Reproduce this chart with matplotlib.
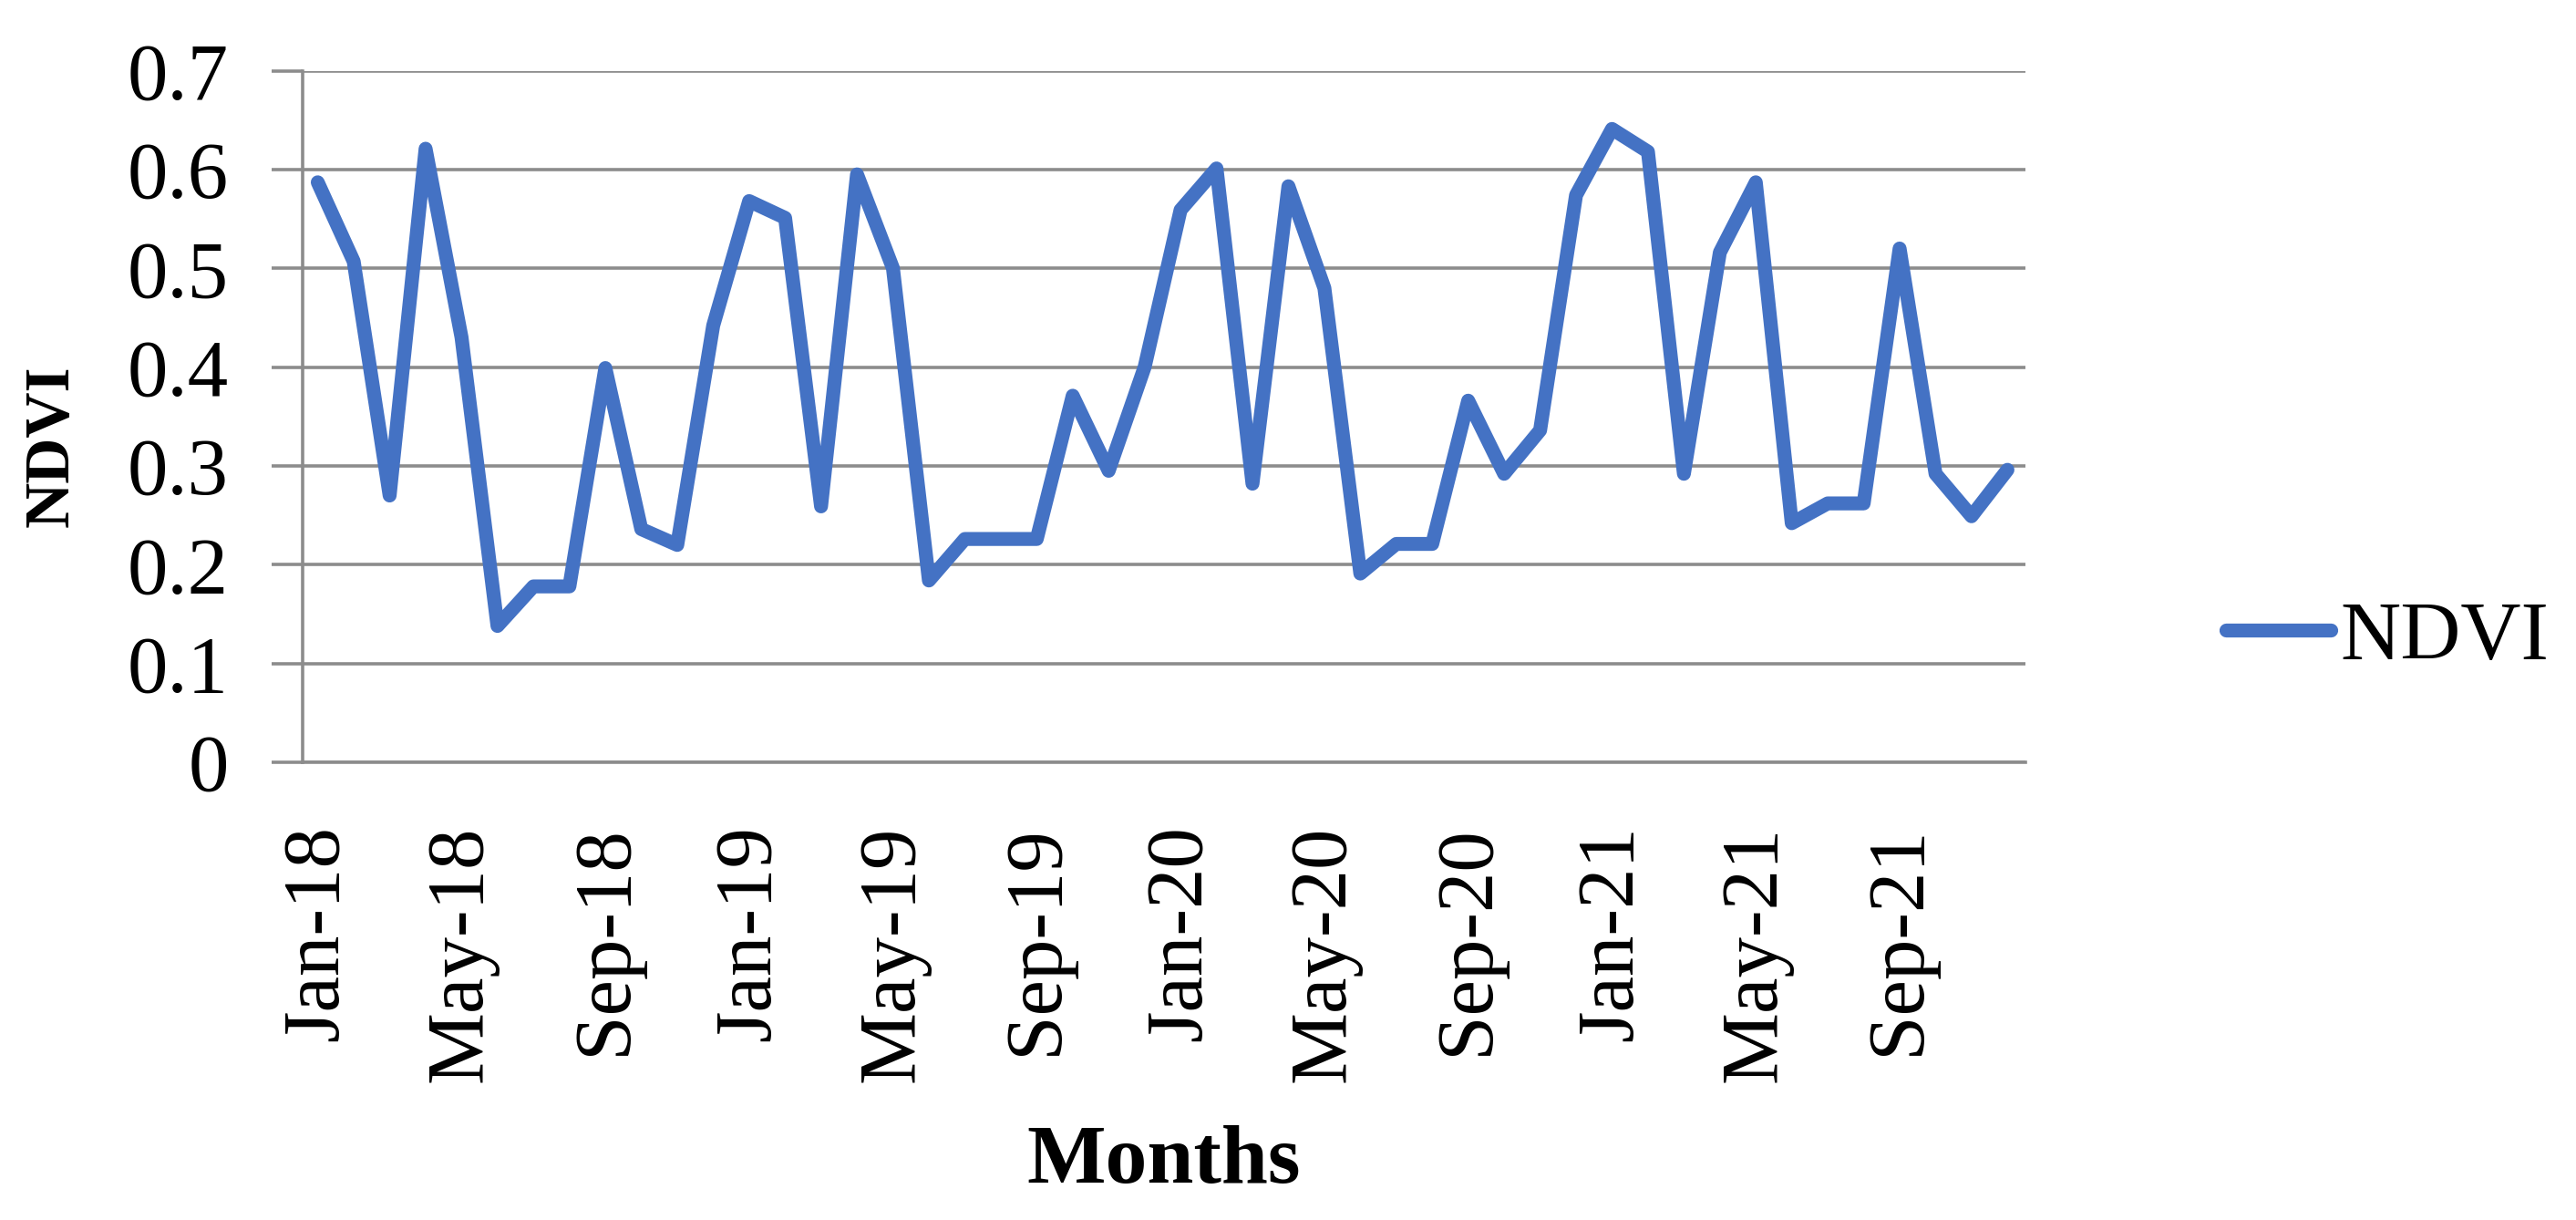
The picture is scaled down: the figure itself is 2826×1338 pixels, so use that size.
import matplotlib
matplotlib.use("Agg")
import matplotlib.pyplot as plt
import numpy as np

months = [f"{m}-{y}" for y in ["18", "19", "20", "21"]
          for m in ["Jan", "Feb", "Mar", "Apr", "May", "Jun",
                    "Jul", "Aug", "Sep", "Oct", "Nov", "Dec"]]
ndvi = [0.587, 0.507, 0.270, 0.621, 0.430, 0.138, 0.178, 0.178, 0.399, 0.236, 0.220, 0.442,
        0.568, 0.551, 0.259, 0.595, 0.500, 0.184, 0.226, 0.226, 0.226, 0.371, 0.295, 0.400,
        0.559, 0.601, 0.282, 0.583, 0.480, 0.191, 0.221, 0.221, 0.366, 0.292, 0.336, 0.574,
        0.641, 0.618, 0.292, 0.516, 0.587, 0.242, 0.262, 0.262, 0.520, 0.292, 0.249, 0.296]
y_ticks = [0, 0.1, 0.2, 0.3, 0.4, 0.5, 0.6, 0.7]
y_tick_labels = ["0", "0.1", "0.2", "0.3", "0.4", "0.5", "0.6", "0.7"]
label_every = 4

plt.rcParams['font.family'] = ['Liberation Serif', 'DejaVu Serif']

W, H = 2826, 1338
fig = plt.figure(figsize=(W / 100, H / 100), dpi=100)
ax = fig.add_axes([332 / W, 1 - 836 / H, (2222 - 332) / W, (836 - 77.5) / H])

x = np.arange(len(months))
line, = ax.plot(x, ndvi, color='#4472C4', lw=11, solid_joinstyle='round',
                solid_capstyle='round', label='NDVI', zorder=3)

grid_c = '#8c8c8c'
ax.set_ylim(0, 0.7)
ax.set_xlim(-0.42, len(months) - 0.5)
ax.set_yticks(y_ticks)
ax.set_yticklabels(y_tick_labels, fontsize=64)
ax.yaxis.grid(True, color=grid_c, lw=2.6)
ax.set_axisbelow(True)

tick_pos = x[::label_every]
ax.set_xticks(tick_pos)
ax.set_xticklabels([months[i] for i in tick_pos], rotation=90, fontsize=64)

for s in ['top', 'right']:
    ax.spines[s].set_visible(False)
ax.spines['left'].set_color(grid_c)
ax.spines['left'].set_linewidth(2.6)
ax.spines['bottom'].set_color(grid_c)
ax.spines['bottom'].set_linewidth(2.6)

ax.tick_params(axis='y', length=24.5, width=2.6, color=grid_c, pad=34)
ax.tick_params(axis='x', length=0, pad=50)

fig.text(1277 / W, 1 - 1297 / H, "Months", fontsize=66, fontweight='bold',
         ha='center', va='baseline')
fig.text(57.5 / W, 1 - 489 / H, "NDVI", fontsize=50, fontweight='bold',
         rotation=90, ha='center', va='center')

leg = ax.legend(handles=[line], loc='center left',
                bbox_to_anchor=(2442 / W, 1 - 700 / H), bbox_transform=fig.transFigure,
                frameon=False, fontsize=66, handlelength=1.25, handletextpad=0.12,
                borderpad=0, borderaxespad=0)

fig.savefig("out.png", dpi=100, facecolor='white')
